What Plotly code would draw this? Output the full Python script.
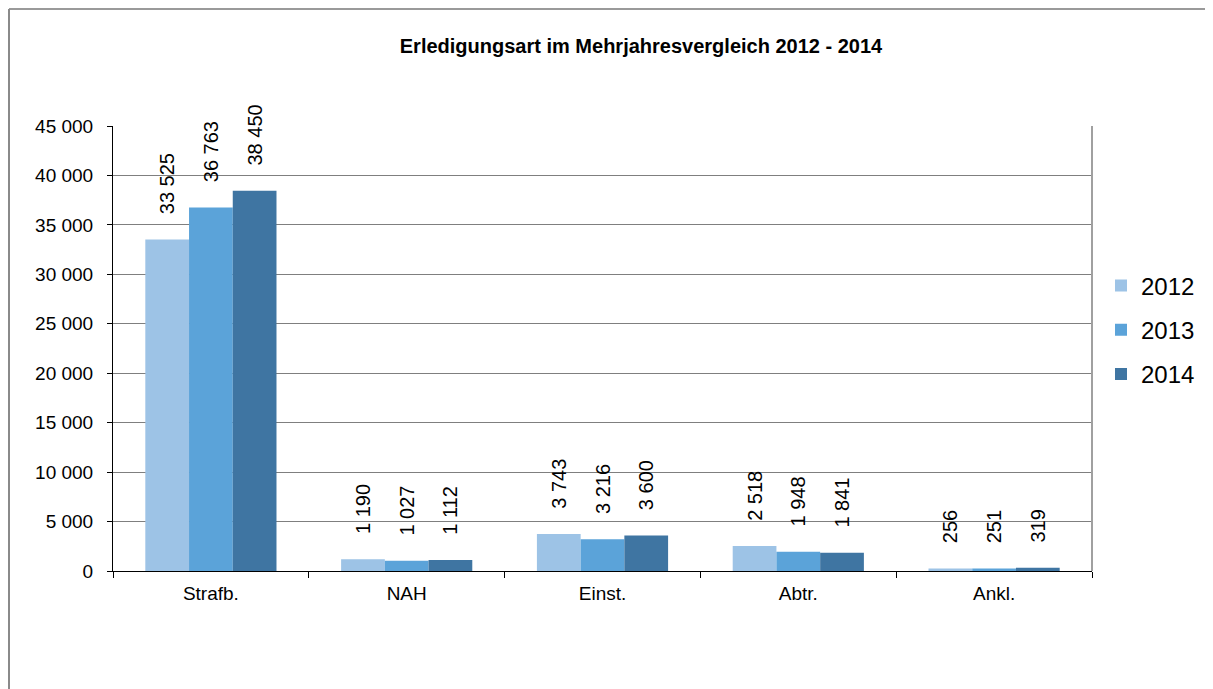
import plotly.graph_objects as go

categories = ["Strafb.", "NAH", "Einst.", "Abtr.", "Ankl."]
years = ["2012", "2013", "2014"]
values_2012 = [33525, 1190, 3743, 2518, 256]
values_2013 = [36763, 1027, 3216, 1948, 251]
values_2014 = [38450, 1112, 3600, 1841, 319]
y_ticks = [0, 5000, 10000, 15000, 20000, 25000, 30000, 35000, 40000, 45000]

colors = ["#9dc3e6", "#5ba3d9", "#3f75a2"]
series = [values_2012, values_2013, values_2014]

# the page puts the figure 8px in from the top-left corner
OFF = 8
W, H = 1213, 689
# plot area in page pixels: x 113..1092, y 126..571
L, T = 113 - OFF, 126 - OFF
R, B = W - (1092 - OFF), H - (571 - OFF)
pw, ph = W - L - R, H - T - B

px = lambda x: (x - OFF - L) / pw          # page pixel -> paper x
py = lambda y: (H - B - (y - OFF)) / ph    # page pixel -> paper y

pad = "\u00a0" * 4  # Excel-style gap between bar top and label

fig = go.Figure()
for i, (year, vals) in enumerate(zip(years, series)):
    fig.add_trace(
        go.Bar(
            x=categories,
            y=vals,
            name=year,
            marker=dict(color=colors[i], line=dict(width=0)),
            text=[pad + f"{v:,}".replace(",", " ") for v in vals],
            textposition="outside",
            textangle=-90,
            constraintext="none",
            textfont=dict(family="Liberation Sans, Arial", size=20, color="#000"),
            cliponaxis=False,
            legendgroup=year,
        )
    )

# outer chart frame (runs past the right and bottom edge of the page)
fig.add_shape(type="line", xref="paper", yref="paper", x0=px(9), x1=px(1300), y0=py(9), y1=py(9),
              line=dict(color="#9a9a9a", width=2))
fig.add_shape(type="line", xref="paper", yref="paper", x0=px(9), x1=px(9), y0=py(9), y1=py(760),
              line=dict(color="#8a8a8a", width=2))
# right border of plot area
fig.add_shape(type="line", xref="paper", yref="paper", x0=1, x1=1, y0=0, y1=1,
              line=dict(color="#a0a0a0", width=2))

fig.update_layout(
    width=W, height=H,
    margin=dict(l=L, r=R, t=T, b=B, autoexpand=False),
    paper_bgcolor="white", plot_bgcolor="white",
    separators=", ",
    barmode="group", bargap=0.33, bargroupgap=0,
    font=dict(family="Liberation Sans, Arial", color="#000"),
    title=dict(
        text="<b>Erledigungsart im Mehrjahresvergleich 2012 - 2014</b>",
        x=(641 - OFF) / W, xanchor="center", y=1 - (46 - OFF) / H, yanchor="middle",
        font=dict(size=20),
    ),
    legend=dict(
        x=px(1101), xanchor="left", y=py(330), yanchor="middle",
        font=dict(size=24), tracegroupgap=10, itemwidth=30,
        bgcolor="rgba(0,0,0,0)",
    ),
    showlegend=True,
)
fig.update_xaxes(
    showline=True, linecolor="#000", linewidth=1,
    ticks="outside", tickson="boundaries", ticklen=6, tickcolor="#000",
    tickfont=dict(size=19), ticklabelstandoff=5, showgrid=False,
)
fig.update_yaxes(
    range=[0, 45000], tickvals=y_ticks, tickformat=",d",
    showline=True, linecolor="#000", linewidth=1,
    ticks="outside", ticklen=5, tickcolor="#000",
    showgrid=True, gridcolor="#7f7f7f", gridwidth=1, zeroline=False,
    tickfont=dict(size=19), ticklabelstandoff=10,
)

fig.write_html("out.html")
